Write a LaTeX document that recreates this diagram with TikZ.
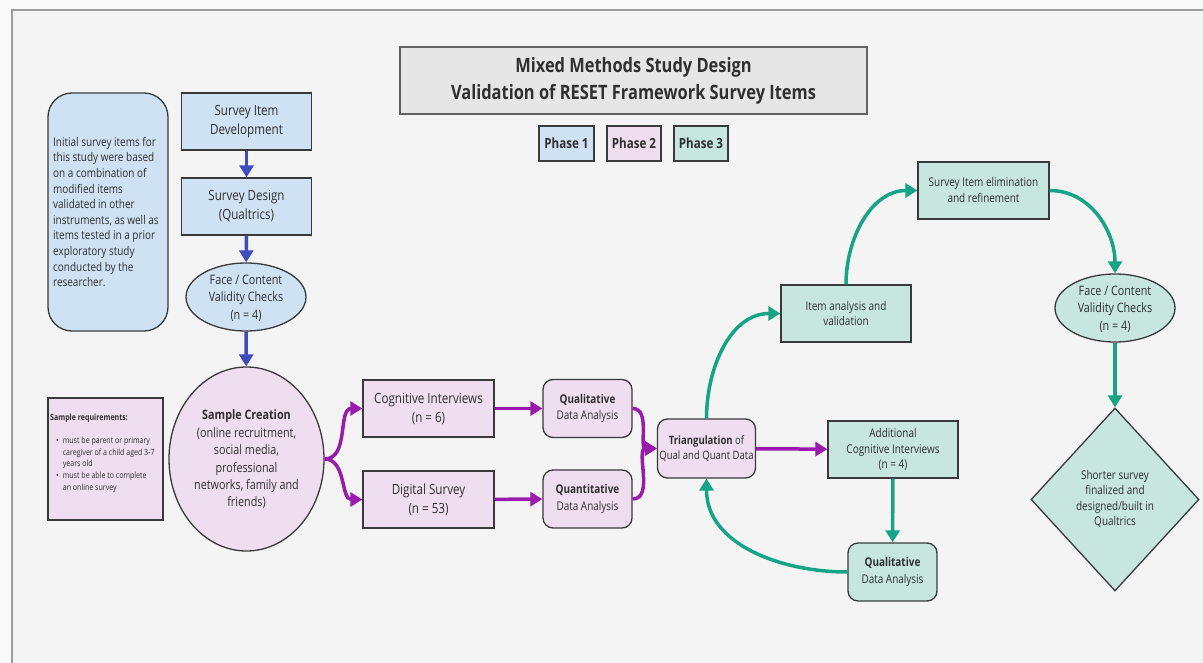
\documentclass[tikz,border=0pt]{standalone}
\usepackage{fontspec}
\setmainfont{Open Sans}[FakeStretch=0.83]
\usetikzlibrary{arrows.meta,shapes.geometric}

\definecolor{bluefill}{HTML}{CFE2F3}
\definecolor{purplefill}{HTML}{EFDEF0}
\definecolor{tealfill}{HTML}{C6E6DF}
\definecolor{bluearrow}{HTML}{3F4BC0}
\definecolor{purplearrow}{HTML}{9B1AAE}
\definecolor{tealarrow}{HTML}{14A587}
\definecolor{edgecol}{HTML}{3A3A3A}
\definecolor{titlefill}{HTML}{E6E6E6}
\definecolor{canvas}{HTML}{F4F4F4}
\definecolor{outside}{HTML}{F9F9F9}
\definecolor{framecol}{HTML}{9C9C9C}
\definecolor{textcol}{HTML}{2F2F2F}

\newcommand\setfs[2]{\fontsize{#1}{#2}\selectfont}

\tikzset{
  shapebase/.style={draw=edgecol, line width=1.3pt, inner sep=0pt, align=center, text=textcol},
  rectbox/.style={shapebase, rectangle, minimum width=#1},
  roundbox/.style={shapebase, rectangle, rounded corners=10pt, minimum width=#1},
  ellbox/.style={shapebase, ellipse},
  label text/.style={align=center, text=textcol, inner sep=0pt},
  arrowbase/.style={line width=3.5pt, -{Triangle[length=12pt,width=14pt]}},
  bluearr/.style={arrowbase, draw=bluearrow},
  purplearr/.style={arrowbase, draw=purplearrow},
  tealarr/.style={arrowbase, draw=tealarrow},
  bigtext/.style={font=\setfs{14}{19}},
  midtext/.style={font=\setfs{13}{17.4}},
  phasetext/.style={font=\bfseries\setfs{14}{16}},
}

\begin{document}
\begin{tikzpicture}[x=1pt,y=-1pt]
\useasboundingbox (0,0) rectangle (1203,663);
% page and frame
\fill[outside] (0,0) rectangle (1203,663);
\fill[canvas] (12,10) rectangle (1203,663);
\draw[framecol, line width=1.6pt] (12,663) -- (12,10) -- (1203,10);

% title and legend
\node[shapebase, fill=titlefill, draw=edgecol!80, minimum width=467pt, minimum height=67pt,
      font=\bfseries\setfs{19.8}{27}] (title) at (633.5,80.5)
      {Mixed Methods Study Design\\Validation of RESET Framework Survey Items};
\node[rectbox=55pt, fill=bluefill, minimum height=35pt, phasetext] (ph1) at (566.5,143.5) {Phase 1};
\node[rectbox=54pt, fill=purplefill, minimum height=35pt, phasetext] (ph2) at (634,143.5) {Phase 2};
\node[rectbox=54pt, fill=tealfill, minimum height=35pt, phasetext] (ph3) at (701,143.5) {Phase 3};

% phase 1
\node[shapebase, rectangle, rounded corners=24pt, fill=bluefill, minimum width=120pt, minimum height=238pt] (note) at (108,212) {};
\node[label text, anchor=west, align=left, font=\setfs{12}{15.6}] (notetext) at (53,212)
  {Initial survey items for\\this study were based\\on a combination of\\modified items\\validated in other\\instruments, as well as\\items tested in a prior\\exploratory study\\conducted by the\\researcher.};
\node[rectbox=130pt, fill=bluefill, minimum height=57pt, bigtext] (sid) at (246.5,121.5) {Survey Item\\Development};
\node[rectbox=130pt, fill=bluefill, minimum height=57pt, bigtext] (sd) at (246.5,206.5) {Survey Design\\(Qualtrics)};
\node[ellbox, fill=bluefill, minimum width=120pt, minimum height=68pt] (fcv) at (246,297) {};
\node[label text, midtext] (fcvtext) at (246,298) {Face / Content\\Validity Checks\\(n = 4)};

% phase 2
\node[rectbox=115pt, fill=purplefill, minimum height=122pt] (sreq) at (105.5,459) {};
\node[label text, anchor=west, font=\bfseries\setfs{8.5}{11}] (sreqhead) at (50,418) {Sample requirements:};
\node[label text, anchor=north west, align=left, font=\setfs{8.5}{11.7}] (sreqlist) at (56,435)
  {\begin{tabular}{@{}l@{\hspace{4pt}}l@{}}
   \textbullet & must be parent or primary\\
               & caregiver of a child aged 3-7\\
               & years old\\
   \textbullet & must be able to complete\\
               & an online survey
   \end{tabular}};
\node[ellbox, fill=purplefill, minimum width=155pt, minimum height=184pt] (sc) at (246.5,459) {};
\node[label text, midtext] (sctext) at (246.5,459.5)
  {\textbf{Sample Creation}\\(online recruitment,\\social media,\\professional\\networks, family and\\friends)};
\node[rectbox=131pt, fill=purplefill, minimum height=57pt, bigtext] (ci) at (428.5,408.5) {Cognitive Interviews\\(n = 6)};
\node[rectbox=131pt, fill=purplefill, minimum height=57pt, bigtext] (ds) at (428.5,499.5) {Digital Survey\\(n = 53)};
\node[roundbox=89pt, fill=purplefill, minimum height=58pt, font=\setfs{12}{16.5}] (qual) at (587.5,408.5) {\textbf{Qualitative}\\Data Analysis};
\node[roundbox=89pt, fill=purplefill, minimum height=58pt, font=\setfs{12}{16.5}] (quant) at (587.5,499) {\textbf{Quantitative}\\Data Analysis};
\node[roundbox=98pt, fill=purplefill, minimum height=59pt, font=\setfs{11.5}{15.5}] (tri) at (706.5,448.5) {\textbf{Triangulation} of\\Qual and Quant Data};

% phase 3
\node[rectbox=130pt, fill=tealfill, minimum height=57pt, font=\setfs{12}{15.5}] (aci) at (893,449.5) {Additional\\Cognitive Interviews\\(n = 4)};
\node[roundbox=89pt, fill=tealfill, minimum height=58pt, font=\setfs{12}{16.5}] (qual2) at (892.5,572) {\textbf{Qualitative}\\Data Analysis};
\node[rectbox=130pt, fill=tealfill, minimum height=57pt, font=\setfs{12}{16}] (ia) at (846,313.5) {Item analysis and\\validation};
\node[rectbox=131pt, fill=tealfill, minimum height=57pt, font=\setfs{12}{16}] (sie) at (983.5,190.5) {Survey Item elimination\\and refinement};
\node[ellbox, fill=tealfill, minimum width=120pt, minimum height=68pt] (fcv2) at (1115,308) {};
\node[label text, midtext] (fcv2text) at (1115,309) {Face / Content\\Validity Checks\\(n = 4)};
\node[shapebase, diamond, fill=tealfill, minimum width=168pt, minimum height=183pt] (dia) at (1115,499.5) {};
\node[label text, font=\setfs{12}{15.5}] (diatext) at (1115,499) {Shorter survey\\finalized and\\designed/built in\\Qualtrics};

% phase 1 flow
\draw[bluearr] (sid) -- (sd);
\draw[bluearr] (sd) -- (fcv);
\draw[bluearr] (fcv) -- (sc);

% phase 2 flow
\draw[purplearr] (sc.east) to[out=0,in=180] (ci.west);
\draw[purplearr] (sc.east) to[out=0,in=180] (ds.west);
\draw[purplearr] (ci) -- (qual);
\draw[purplearr] (ds) -- (quant);
\draw[purplearr] (qual.east) to[out=0,in=180] (tri.west);
\draw[purplearr] (quant.east) to[out=0,in=180] (tri.west);
\draw[purplearr] (tri) -- (aci);

% phase 3 flow
\draw[tealarr] (tri.north) to[out=90,in=180] (ia.west);
\draw[tealarr] (ia.north) to[out=90,in=180] (sie.west);
\draw[tealarr] (sie.east) to[out=0,in=90] (fcv2.north);
\draw[tealarr] (fcv2.south) -- (dia.north);
\draw[tealarr] (aci) -- (qual2);
\draw[tealarr] (qual2.west) to[out=180,in=-90] (tri.south);
\end{tikzpicture}
\end{document}
